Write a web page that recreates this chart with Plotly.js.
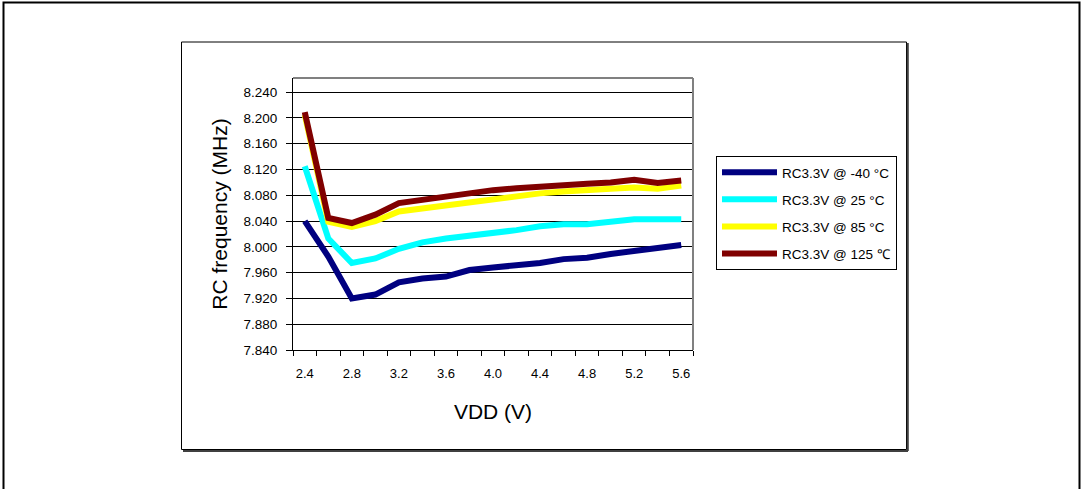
<!DOCTYPE html>
<html>
<head>
<meta charset="utf-8">
<script src="https://cdn.plot.ly/plotly-3.0.1.min.js"></script>
<style>
  html, body { margin: 0; padding: 0; background: #ffffff; }
  #chart { width: 1083px; height: 489px; }
</style>
</head>
<body>
<div id="chart"></div>
<script>
// ---- data ----
const vdd = [2.4, 2.6, 2.8, 3.0, 3.2, 3.4, 3.6, 3.8, 4.0, 4.2, 4.4, 4.6, 4.8, 5.0, 5.2, 5.4, 5.6];
const seriesNames = ["RC3.3V @ -40 °C", "RC3.3V @ 25 °C", "RC3.3V @ 85 °C", "RC3.3V @ 125 ℃"];
const freqM40 = [8.040, 7.985, 7.920, 7.926, 7.945, 7.951, 7.954, 7.964, 7.968, 7.971, 7.975, 7.981, 7.983, 7.989, 7.993, 7.997, 8.003];
const freq25  = [8.125, 8.013, 7.975, 7.982, 7.997, 8.007, 8.013, 8.017, 8.023, 8.026, 8.032, 8.035, 8.035, 8.040, 8.043, 8.043, 8.043];
const freq85  = [8.205, 8.039, 8.031, 8.040, 8.055, 8.060, 8.065, 8.070, 8.075, 8.080, 8.083, 8.086, 8.087, 8.090, 8.092, 8.090, 8.095];
const freq125 = [8.209, 8.045, 8.037, 8.050, 8.068, 8.073, 8.078, 8.084, 8.088, 8.091, 8.094, 8.097, 8.098, 8.100, 8.104, 8.099, 8.103];
const seriesColors = ["#000080", "#00FFFF", "#FFFF00", "#800000"];

// ---- layout helpers (pixel -> paper) ----
const W = 1083, H = 489;
const L = 293, R = 693, T = 78, B = 350;
const fx = px => (px - L) / (R - L);
const fy = py => (B - py) / (B - T);

const FONT = '"Liberation Sans", Arial, sans-serif';
const allSeries = [freqM40, freq25, freq85, freq125];

const traces = allSeries.map((ys, i) => ({
  type: 'scatter',
  mode: 'lines',
  x: vdd,
  y: ys,
  name: seriesNames[i],
  legendgroup: 'g' + i,
  line: { color: seriesColors[i], width: 6 },
  hoverinfo: 'x+y+name'
}));

const shapes = [
  // outer frame (bottom edge falls outside the picture)
  { type: 'rect', xref: 'paper', yref: 'paper', x0: fx(3.5), x1: fx(1079.5), y0: fy(520), y1: fy(2.5),
    line: { color: '#000000', width: 2 }, fillcolor: 'rgba(0,0,0,0)' },
  // chart-area box
  { type: 'rect', xref: 'paper', yref: 'paper', x0: fx(181.5), x1: fx(906.5), y0: fy(449.5), y1: fy(42),
    line: { color: '#000000', width: 1 }, fillcolor: 'rgba(0,0,0,0)' },
  // box shadow right & bottom
  { type: 'line', xref: 'paper', yref: 'paper', x0: fx(183), x1: fx(908), y0: fy(451), y1: fy(451),
    line: { color: '#404040', width: 2 } },
  { type: 'line', xref: 'paper', yref: 'paper', x0: fx(907.8), x1: fx(907.8), y0: fy(451), y1: fy(43),
    line: { color: '#404040', width: 2 } },
  // plot-area grey border (top & right)
  { type: 'line', xref: 'paper', yref: 'paper', x0: 0, x1: 1, y0: 1, y1: 1,
    line: { color: '#808080', width: 2 } },
  { type: 'line', xref: 'paper', yref: 'paper', x0: 1, x1: 1, y0: 0, y1: 1,
    line: { color: '#808080', width: 2 } }
];

const layout = {
  width: W, height: H,
  margin: { l: L, r: W - R, t: T, b: H - B, pad: 0 },
  paper_bgcolor: '#ffffff',
  plot_bgcolor: '#ffffff',
  font: { family: FONT, color: '#000000', size: 13 },
  showlegend: true,
  legend: {
    x: fx(716), y: fy(156), xanchor: 'left', yanchor: 'top',
    bgcolor: '#ffffff', bordercolor: '#000000', borderwidth: 1,
    font: { family: FONT, size: 13.5, color: '#000000' },
    itemwidth: 55, tracegroupgap: 6.5
  },
  xaxis: {
    type: 'linear',
    range: [2.3, 5.7],
    tick0: 2.4, dtick: 0.4, tickformat: '.1f',
    ticks: '', showgrid: false, zeroline: false,
    showline: true, linecolor: '#000000', linewidth: 1,
    ticklabelstandoff: 11,
    tickfont: { family: FONT, size: 13, color: '#000000' },
    minor: { tick0: 2.3, dtick: 0.2, ticks: 'outside', ticklen: 5, tickcolor: '#000000', tickwidth: 1, showgrid: false },
    title: { text: 'VDD (V)', font: { family: FONT, size: 21, color: '#000000' }, standoff: 24 },
    fixedrange: true
  },
  yaxis: {
    range: [7.84, 8.262],
    tick0: 7.84, dtick: 0.04, tickformat: '.3f',
    ticks: 'outside', ticklen: 6, tickcolor: '#000000', tickwidth: 1,
    ticklabelstandoff: 6,
    showgrid: true, gridcolor: '#000000', gridwidth: 1,
    zeroline: false,
    showline: true, linecolor: '#000000', linewidth: 1,
    tickfont: { family: FONT, size: 13.5, color: '#000000' },
    title: { text: 'RC frequency (MHz)', font: { family: FONT, size: 21, color: '#000000' }, standoff: 10 },
    fixedrange: true
  },
  shapes: shapes
};

Plotly.newPlot('chart', traces, layout, { displayModeBar: false, staticPlot: false });
</script>
</body>
</html>
